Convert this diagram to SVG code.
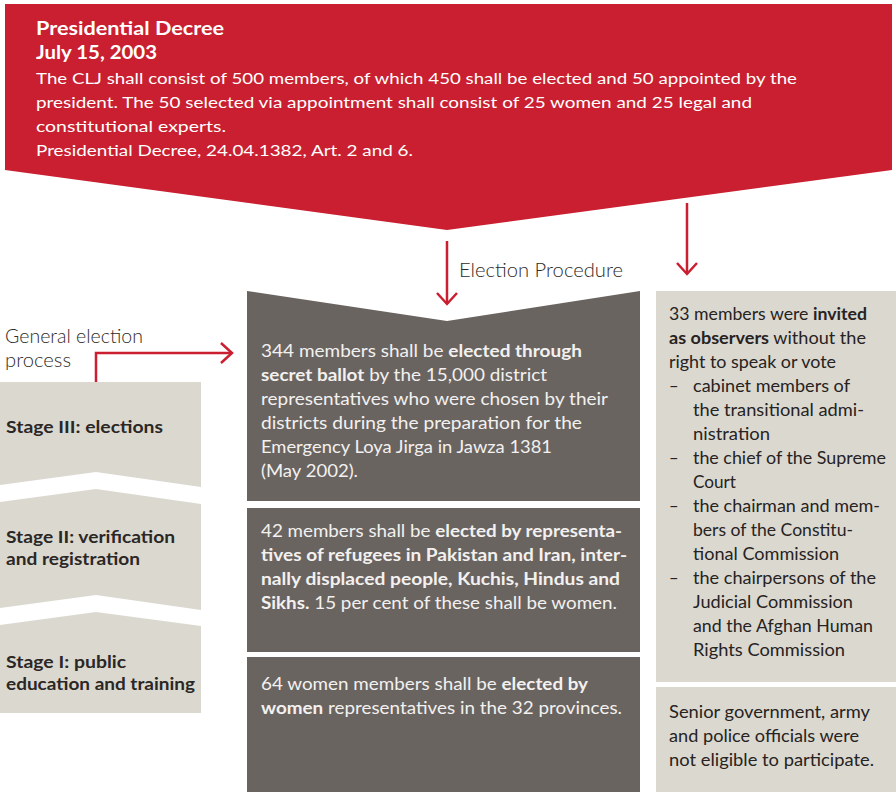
<svg xmlns="http://www.w3.org/2000/svg" width="896" height="792" viewBox="0 0 896 792">
<defs>
<style>
text{font-family:Lato,"Liberation Sans","DejaVu Sans",sans-serif}
.w{fill:#ffffff}
.rt{font-size:16px}
.tt{font-size:19px;font-weight:bold}
.g{fill:#f3f1ef;font-size:16.5px}
.d{fill:#262322;font-size:16.5px}
.st{fill:#2a2725;font-size:17.5px;font-weight:bold}
.lt{fill:#2e2b29;font-size:19.5px;font-weight:300}
.b{font-weight:bold}
.red{fill:#c91f30}
.dark{fill:#6a6461}
.beige{fill:#dbd8d0}
.con{fill:none;stroke:#c91f30;stroke-width:2.5;marker-end:url(#chev)}
</style>
<marker id="chev" markerUnits="userSpaceOnUse" markerWidth="30" markerHeight="30" viewBox="-15 -15 30 30" refX="0" refY="0" orient="auto" overflow="visible">
<path d="M-11,-10 L0,0 L-11,10" fill="none" stroke="#c91f30" stroke-width="2.5"/>
</marker>
</defs>

<g id="decree">
<polygon class="red" points="5,4 892,4 892,170 447,230 5,170"/>
<text class="w tt" x="36" y="35" textLength="188" lengthAdjust="spacingAndGlyphs">Presidential Decree</text>
<text class="w tt" x="36" y="59" textLength="121" lengthAdjust="spacingAndGlyphs">July 15, 2003</text>
<text class="w rt" x="36" y="84" textLength="761" lengthAdjust="spacingAndGlyphs">The CLJ shall consist of 500 members, of which 450 shall be elected and 50 appointed by the</text>
<text class="w rt" x="36" y="108" textLength="716" lengthAdjust="spacingAndGlyphs">president. The 50 selected via appointment shall consist of 25 women and 25 legal and</text>
<text class="w rt" x="36" y="132" textLength="190" lengthAdjust="spacingAndGlyphs">constitutional experts.</text>
<text class="w rt" x="36" y="156" textLength="377" lengthAdjust="spacingAndGlyphs">Presidential Decree, 24.04.1382, Art. 2 and 6.</text>
</g>

<g id="label-election-procedure">
<text class="lt" x="459" y="277" textLength="164" lengthAdjust="spacingAndGlyphs">Election Procedure</text>
</g>

<g id="label-general">
<text class="lt" x="5" y="343" textLength="138" lengthAdjust="spacingAndGlyphs">General election</text>
<text class="lt" x="5" y="367" textLength="66" lengthAdjust="spacingAndGlyphs">process</text>
</g>

<g id="stage3">
<polygon class="beige" points="0,382 201,382 201,487 96,472 0,485"/>
<text class="st" x="6" y="433" textLength="157" lengthAdjust="spacingAndGlyphs">Stage III: elections</text>
</g>
<g id="stage2">
<polygon class="beige" points="0,502 96,489 201,504 201,610 96,595 0,608"/>
<text class="st" x="6" y="543" textLength="169" lengthAdjust="spacingAndGlyphs">Stage II: verification</text>
<text class="st" x="6" y="565" textLength="134" lengthAdjust="spacingAndGlyphs">and registration</text>
</g>
<g id="stage1">
<polygon class="beige" points="0,625 96,612 201,626 201,713 0,713"/>
<text class="st" x="6" y="668" textLength="120" lengthAdjust="spacingAndGlyphs">Stage I: public</text>
<text class="st" x="6" y="690" textLength="189" lengthAdjust="spacingAndGlyphs">education and training</text>
</g>

<g id="box344">
<polygon class="dark" points="247,291 447,321 640,291 640,501 247,501"/>
<text class="g" x="261" y="357" textLength="321" lengthAdjust="spacingAndGlyphs">344 members shall be <tspan class="b">elected through</tspan></text>
<text class="g" x="261" y="381" textLength="286" lengthAdjust="spacingAndGlyphs"><tspan class="b">secret ballot</tspan> by the 15,000 district</text>
<text class="g" x="261" y="405" textLength="347" lengthAdjust="spacingAndGlyphs">representatives who were chosen by their</text>
<text class="g" x="261" y="429" textLength="321" lengthAdjust="spacingAndGlyphs">districts during the preparation for the</text>
<text class="g" x="261" y="453" textLength="291" lengthAdjust="spacingAndGlyphs">Emergency Loya Jirga in Jawza 1381</text>
<text class="g" x="261" y="477" textLength="97" lengthAdjust="spacingAndGlyphs">(May 2002).</text>
</g>

<g id="box42">
<rect class="dark" x="247" y="508" width="393" height="144"/>
<text class="g" x="261" y="537" textLength="361" lengthAdjust="spacingAndGlyphs">42 members shall be <tspan class="b">elected by representa-</tspan></text>
<text class="g b" x="261" y="561" textLength="366" lengthAdjust="spacingAndGlyphs">tives of refugees in Pakistan and Iran, inter-</text>
<text class="g b" x="261" y="585" textLength="359" lengthAdjust="spacingAndGlyphs">nally displaced people, Kuchis, Hindus and</text>
<text class="g" x="261" y="609" textLength="356" lengthAdjust="spacingAndGlyphs"><tspan class="b">Sikhs.</tspan> 15 per cent of these shall be women.</text>
</g>

<g id="box64">
<rect class="dark" x="247" y="657" width="393" height="135"/>
<text class="g" x="261" y="690" textLength="327" lengthAdjust="spacingAndGlyphs">64 women members shall be <tspan class="b">elected by</tspan></text>
<text class="g" x="261" y="714" textLength="361" lengthAdjust="spacingAndGlyphs"><tspan class="b">women</tspan> representatives in the 32 provinces.</text>
</g>

<g id="observers">
<rect class="beige" x="656" y="291" width="240" height="391"/>
<text class="d" x="669" y="320" textLength="198" lengthAdjust="spacingAndGlyphs">33 members were <tspan class="b">invited</tspan></text>
<text class="d" x="669" y="344" textLength="197" lengthAdjust="spacingAndGlyphs"><tspan class="b">as observers</tspan> without the</text>
<text class="d" x="669" y="368" textLength="167" lengthAdjust="spacingAndGlyphs">right to speak or vote</text>
<text class="d" x="669" y="392">–</text>
<text class="d" x="693" y="392" textLength="157" lengthAdjust="spacingAndGlyphs">cabinet members of</text>
<text class="d" x="693" y="416" textLength="171" lengthAdjust="spacingAndGlyphs">the transitional admi-</text>
<text class="d" x="693" y="440" textLength="77" lengthAdjust="spacingAndGlyphs">nistration</text>
<text class="d" x="669" y="464">–</text>
<text class="d" x="693" y="464" textLength="193" lengthAdjust="spacingAndGlyphs">the chief of the Supreme</text>
<text class="d" x="693" y="488" textLength="43" lengthAdjust="spacingAndGlyphs">Court</text>
<text class="d" x="669" y="512">–</text>
<text class="d" x="693" y="512" textLength="187" lengthAdjust="spacingAndGlyphs">the chairman and mem-</text>
<text class="d" x="693" y="536" textLength="160" lengthAdjust="spacingAndGlyphs">bers of the Constitu-</text>
<text class="d" x="693" y="560" textLength="146" lengthAdjust="spacingAndGlyphs">tional Commission</text>
<text class="d" x="669" y="584">–</text>
<text class="d" x="693" y="584" textLength="183" lengthAdjust="spacingAndGlyphs">the chairpersons of the</text>
<text class="d" x="693" y="608" textLength="160" lengthAdjust="spacingAndGlyphs">Judicial Commission</text>
<text class="d" x="693" y="632" textLength="180" lengthAdjust="spacingAndGlyphs">and the Afghan Human</text>
<text class="d" x="693" y="656" textLength="152" lengthAdjust="spacingAndGlyphs">Rights Commission</text>
</g>

<g id="not-eligible">
<rect class="beige" x="656" y="687" width="240" height="105"/>
<text class="d" x="669" y="718" textLength="201" lengthAdjust="spacingAndGlyphs">Senior government, army</text>
<text class="d" x="669" y="742" textLength="190" lengthAdjust="spacingAndGlyphs">and police officials were</text>
<text class="d" x="669" y="766" textLength="205" lengthAdjust="spacingAndGlyphs">not eligible to participate.</text>
</g>

<g id="connectors">
<path class="con" d="M96,382 V353 H232"/>
<path class="con" d="M447,241 V304"/>
<path class="con" d="M687,203 V274"/>
</g>
</svg>
